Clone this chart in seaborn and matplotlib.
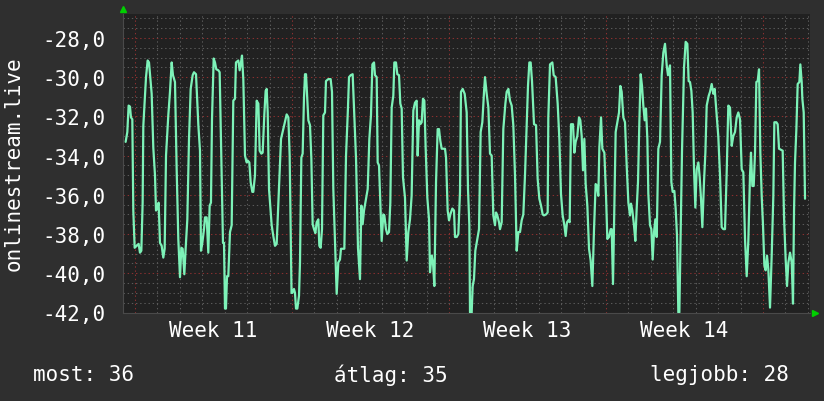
import matplotlib
matplotlib.use("Agg")
import matplotlib.pyplot as plt
import matplotlib.transforms as mtransforms
from matplotlib.ticker import FixedLocator, FuncFormatter, MultipleLocator
import seaborn as sns
import pandas as pd

# ---- data: hours since start of Week 11 (Monday 00:00) and measured values ----
hours = [
    -10.0, -8.2, -6.8, -5.35, -4.3, -2.85, -1.8, -0.35, 1.8, 3.9, 5.35, 6.8, 8.2, 8.9, 11.8, 13.55,
    15.0, 16.05, 17.85, 19.6, 21.4, 22.5, 23.9, 25.3, 26.75, 28.55, 30.3, 31.75, 33.2, 35.65, 37.45,
    39.25, 40.65, 42.8, 44.6, 46.35, 48.15, 49.6, 51.0, 52.8, 54.2, 56.0, 57.8, 59.6, 61.7, 63.15,
    65.3, 67.8, 69.55, 70.6, 72.05, 73.85,
    74.9, 76.7, 78.45, 79.9, 81.3, 82.4, 84.2, 85.6, 87.0, 89.15, 90.6, 92.0, 94.15, 95.25, 96.3,
    97.35, 98.45, 99.85, 101.65, 103.45, 105.2, 107.0, 108.05, 110.55, 112.0, 113.4, 114.5, 115.9,
    117.7, 119.5, 120.55, 122.35, 123.75, 125.55, 126.6, 128.4, 130.2, 132.0, 133.4, 135.2, 136.6,
    138.4, 139.8, 140.9, 142.0, 143.4, 146.25, 148.0, 149.8, 151.6, 154.1, 156.25, 158.7, 160.5,
    162.3, 164.1, 165.5, 167.5,
    168.35, 170.1, 171.2, 172.3, 173.7, 175.5, 176.55, 178.0, 179.4, 180.8, 181.9, 183.0, 184.4,
    185.5, 187.25, 188.7, 190.1, 191.55, 193.0, 194.4, 196.15, 197.25, 198.65, 200.1, 201.5, 203.3,
    204.35, 206.85, 209.35, 210.8, 212.2, 214.0, 215.8, 217.55, 219.35, 220.4, 224.0, 225.8, 227.9,
    229.0, 230.8, 232.9, 234.35, 236.5, 238.6, 240.75, 242.2, 243.6, 245.05, 247.2, 249.0, 250.75,
    252.5, 254.0, 255.75, 256.8,
    258.6, 259.65, 261.1, 262.5, 263.95, 265.7, 266.8, 268.55, 270.0, 271.8, 273.2, 274.65, 276.4,
    277.5, 279.25, 280.7, 282.5, 283.9, 285.35, 286.75, 288.9, 290.7, 292.45, 294.25, 296.0, 297.8,
    299.6, 301.4, 302.45, 303.9, 305.3, 306.75, 308.15, 309.6, 311.0, 312.8, 314.6, 315.65, 317.45,
    318.85, 320.3, 322.1, 323.85, 325.3, 326.7, 328.15, 331.7, 332.8, 334.55, 336.0, 337.4, 339.55,
    341.35, 342.4, 344.2, 346.0, 347.75,
    348.8, 350.6, 352.75, 354.9, 356.3, 357.75, 358.45, 360.2, 361.3, 362.7, 364.15, 366.3, 368.1,
    369.85, 371.65, 373.45, 374.5, 376.3, 378.1, 379.85, 381.65, 383.4, 385.2, 386.3, 387.7, 389.5,
    390.55, 392.35, 394.1, 396.3, 397.7, 399.5, 401.25, 403.05, 404.8, 406.6, 408.4, 410.2, 411.95,
    413.75, 415.5, 417.3, 419.1, 420.5, 421.95, 423.35, 424.8, 426.95, 429.1, 430.85, 432.65,
    434.45, 436.2, 437.65, 439.8, 441.55,
    442.25, 444.05, 446.55, 448.0, 450.1, 452.25, 454.05, 455.8, 457.6, 459.4, 460.8, 462.25,
    463.65, 465.1, 466.5, 468.65, 470.1, 471.5, 473.3, 475.1, 476.5, 477.95, 479.35, 480.8, 482.2,
    484.0, 485.8, 487.55, 489.35, 491.15, 492.9, 494.35, 495.75, 496.85, 498.65, 500.05, 502.2,
    504.0, 505.4, 507.2, 509.0, 510.05, 511.45, 512.9, 514.3, 516.45, 517.9, 519.3, 520.75, 522.5,
    524.3, 526.1, 527.9, 529.65, 530.7, 532.15, 533.6,
    533.9, 535.35, 536.8, 538.2, 539.65, 541.05, 542.5, 543.9, 545.35, 546.75, 548.2, 549.25,
    551.05, 552.5, 553.9, 555.35, 556.75, 558.2, 559.95, 561.75, 563.55, 565.3, 567.1, 568.9,
    570.3, 572.45, 573.9, 575.3, 577.1, 578.5, 579.95, 581.35, 582.45, 583.85, 585.3, 587.45,
    589.2, 591.0, 592.4, 593.85, 595.3, 596.7, 598.15, 599.55, 601.0, 602.8, 604.2, 605.6, 607.05,
    608.85, 610.3, 611.7, 613.85, 615.25, 617.05, 618.85, 620.25,
    622.4, 624.15, 625.95, 627.75, 629.5, 631.3, 633.1, 634.85, 636.65, 638.45, 640.2, 642.0,
    643.8, 645.55, 647.35, 649.15, 650.9, 652.7, 654.5, 656.25, 658.05, 659.1, 660.55, 662.0,
    663.4, 664.85, 666.25, 667.7, 669.1, 670.55, 671.95, 673.4, 674.8, 676.25, 677.65, 679.45,
    681.25, 683.0, 684.1, 686.25, 687.65, 689.1, 693.0, 694.45, 696.2, 697.65, 699.1, 700.85,
    702.65, 704.05, 705.15, 706.2, 707.65, 709.05, 710.85, 711.9, 713.35, 714.05, 715.5, 716.9,
]
values = [
    -33.3, -32.8, -31.45, -31.5, -32.05, -32.15, -36.8, -38.7, -38.6, -38.5, -38.95, -38.85, -36.4,
    -32.5, -30.0, -29.15, -29.25, -29.85, -30.85, -33.6, -35.0, -36.8, -36.7, -36.4, -38.45, -38.6,
    -39.2, -38.75, -34.0, -31.95, -30.75, -29.25, -29.9, -30.25, -34.7, -38.25, -40.2, -38.7,
    -38.75, -40.05, -38.75, -37.25, -33.15, -30.6, -29.9, -29.75, -29.85, -32.45, -33.75, -38.85,
    -38.45, -37.75,
    -37.15, -37.15, -38.95, -36.55, -36.4, -32.15, -29.05, -29.25, -29.6, -29.65, -29.75, -33.15,
    -38.45, -38.45, -41.8, -41.8, -40.15, -40.15, -37.9, -37.55, -31.2, -31.1, -29.25, -29.15,
    -29.65, -29.25, -28.9, -30.1, -34.0, -34.35, -34.25, -34.35, -35.35, -35.85, -35.85, -35.0,
    -31.2, -31.35, -33.75, -33.9, -33.85, -31.9, -30.7, -30.6, -31.8, -35.7, -37.55, -38.1, -38.6,
    -38.5, -35.55, -33.15, -32.65, -32.3, -31.9, -32.05, -34.0, -41.0,
    -41.0, -40.8, -41.0, -41.8, -41.8, -41.15, -39.45, -34.1, -33.9, -31.1, -29.85, -29.85, -31.2,
    -32.2, -32.45, -34.15, -37.5, -37.75, -37.95, -37.4, -37.25, -38.6, -38.7, -37.75, -31.95,
    -31.8, -30.2, -30.1, -30.1, -30.75, -35.7, -38.45, -41.05, -39.45, -39.3, -38.75, -38.75, -34.0,
    -31.55, -30.0, -29.9, -29.85, -31.6, -34.15, -38.7, -40.3, -36.55, -37.5, -36.8, -36.2, -35.7,
    -33.15, -31.95, -29.35, -29.25, -29.9,
    -30.0, -34.35, -34.5, -36.4, -38.35, -37.0, -37.05, -37.75, -38.0, -37.9, -36.4, -31.55,
    -30.95, -29.25, -29.25, -29.85, -29.9, -31.35, -31.6, -35.1, -36.15, -39.35, -37.9, -37.25,
    -36.05, -31.7, -31.3, -31.2, -34.0, -32.2, -32.4, -32.3, -31.1, -31.2, -33.6, -36.15, -37.25,
    -39.95, -39.1, -39.45, -40.65, -35.35, -32.65, -32.65, -33.25, -33.65, -33.65, -34.1, -36.8,
    -37.3, -37.0, -36.7, -36.8, -38.15, -38.15, -38.0, -35.85,
    -30.75, -30.6, -30.85, -31.8, -35.7, -37.55, -42.0, -42.05, -40.65, -40.3, -38.85, -38.25,
    -37.75, -32.8, -32.3, -30.75, -30.0, -30.85, -31.55, -33.9, -34.0, -37.05, -37.55, -36.9,
    -37.05, -37.4, -37.75, -37.4, -32.65, -31.35, -30.75, -30.6, -31.2, -31.45, -32.45, -35.0,
    -38.85, -37.9, -37.9, -37.3, -37.0, -35.0, -32.4, -30.45, -29.25, -29.25, -30.2, -32.4, -32.45,
    -35.2, -36.2, -36.55, -37.0, -37.05, -37.0, -36.9,
    -32.05, -29.35, -29.25, -29.9, -30.0, -31.35, -33.15, -35.95, -37.05, -37.55, -38.1, -37.4,
    -37.3, -37.4, -32.4, -32.4, -33.85, -33.3, -33.0, -32.05, -32.2, -33.0, -34.75, -33.15, -35.45,
    -36.55, -38.75, -39.35, -40.65, -37.75, -35.45, -35.55, -36.05, -33.6, -32.05, -33.65, -33.85,
    -36.05, -38.25, -38.15, -37.75, -37.75, -40.55, -36.7, -32.8, -32.2, -31.8, -30.45, -30.75,
    -32.05, -32.3, -34.5, -36.4, -37.05, -36.45, -36.8, -37.4,
    -37.55, -38.35, -36.7, -35.35, -32.3, -29.85, -30.45, -31.45, -32.2, -31.6, -33.15, -35.95,
    -37.55, -37.75, -39.3, -37.9, -37.25, -38.15, -33.65, -33.3, -29.9, -28.75, -28.3, -29.4,
    -29.9, -29.4, -35.35, -35.85, -35.8, -36.7, -38.1, -42.0, -42.0, -38.1, -33.75, -29.5, -28.2,
    -28.3, -30.2, -30.25, -30.7, -31.8, -34.7, -36.65, -34.7, -34.35, -35.1, -36.2, -37.65, -35.3,
    -33.85, -31.45, -30.95, -30.75, -30.35, -30.85, -30.6,
    -31.95, -33.05, -35.0, -37.65, -37.75, -37.75, -34.85, -31.45, -31.55, -33.5, -33.0, -32.8,
    -32.05, -31.8, -32.15, -34.7, -34.85, -38.25, -40.15, -38.35, -35.0, -33.85, -35.55, -35.55,
    -33.85, -30.25, -30.2, -29.6, -33.85, -36.05, -37.55, -39.6, -39.85, -39.1, -39.8, -41.75,
    -39.1, -36.05, -32.3, -32.3, -32.4, -33.65, -33.75, -37.15, -39.3, -40.65, -39.45, -38.95,
    -39.45, -41.55, -36.8, -34.35, -32.65, -30.35, -30.25, -29.35, -30.25, -31.1, -31.8, -36.2,
]
week_starts = [0, 168, 336, 504, 672]          # hours
week_labels = ["Week 11", "Week 12", "Week 13", "Week 14"]
y_major = [-42, -40, -38, -36, -34, -32, -30, -28]
y_label = "onlinestream.live"
summary = [("most: 36", 33), ("átlag: 35", 334), ("legjobb: 28", 650)]

# ---- style ----
BG = "#2f2f2f"
CANVAS = "#212121"
LINE = "#7df2b8"
MINOR = "#5a5a5a"
MAJOR = "#8a3030"
ARROW = "#00d000"
TXT = "#ffffff"

sns.set_theme(style="dark")
plt.rcParams["font.family"] = ["DejaVu Sans Mono", "DejaVu Sans"]
plt.rcParams["lines.scale_dashes"] = False

W, H = 824, 402
fig = plt.figure(figsize=(W / 100, H / 100), dpi=100, facecolor=BG)
L, R, T, B = 123.3, 809.5, 15.0, 313.5
ax = fig.add_axes([L / W, 1 - B / H, (R - L) / W, (B - T) / H])
ax.set_facecolor(CANVAS)

df = pd.DataFrame({"hours": hours, "value": values})
sns.lineplot(data=df, x="hours", y="value", ax=ax, color=LINE, linewidth=1.6,
             estimator=None, sort=False, zorder=5)

ax.set_xlim(-12.5, 721.7)
ax.set_ylim(-42, -26.78)

# grid
ax.yaxis.set_major_locator(FixedLocator(y_major))
ax.yaxis.set_minor_locator(MultipleLocator(0.5))
ax.yaxis.set_major_formatter(FuncFormatter(lambda v, p: f"{v:.1f}".replace(".", ",")))
ax.xaxis.set_major_locator(FixedLocator(week_starts))
ax.xaxis.set_minor_locator(MultipleLocator(24))
ax.set_xticklabels([])
dots = (0, (1, 2))
ax.grid(which="minor", color=MINOR, linestyle=dots, linewidth=0.75)
ax.grid(which="major", color=MAJOR, linestyle=dots, linewidth=0.75)
ax.set_axisbelow(True)

ax.tick_params(axis="both", which="both", direction="out", length=3, width=0.75)
ax.tick_params(axis="x", which="minor", color=MINOR)
ax.tick_params(axis="x", which="major", color=MAJOR)
ax.tick_params(axis="y", which="minor", color=MINOR, length=2)
ax.tick_params(axis="y", which="major", color=MAJOR, length=2, labelsize=15,
               labelcolor=TXT, pad=11)
ax.set_xlabel("")
ax.set_ylabel("")

for s in ("top", "right"):
    ax.spines[s].set_visible(False)
for s in ("left", "bottom"):
    ax.spines[s].set_visible(True)
    ax.spines[s].set_color("#4a4a4a")
    ax.spines[s].set_linewidth(0.8)

# week labels centred in each week
trans = mtransforms.blended_transform_factory(ax.transData, ax.transAxes)
for i, lab in enumerate(week_labels):
    ax.text((week_starts[i] + week_starts[i + 1]) / 2, -0.058, lab, transform=trans,
            ha="center", va="center", color=TXT, fontsize=15)

# axis arrows
ax.plot([0], [1.018], marker="^", color=ARROW, markersize=5, transform=ax.transAxes,
        clip_on=False, zorder=10)
ax.plot([1.008], [0], marker=">", color=ARROW, markersize=5, transform=ax.transAxes,
        clip_on=False, zorder=10)

fig.text(14 / W, 1 - 164 / H, y_label, rotation=90, ha="center", va="center",
         color=TXT, fontsize=15)
for txt, xpx in summary:
    fig.text(xpx / W, 1 - 375 / H, txt, ha="left", va="center", color=TXT, fontsize=15)

fig.savefig("out.png", dpi=100, facecolor=BG)
